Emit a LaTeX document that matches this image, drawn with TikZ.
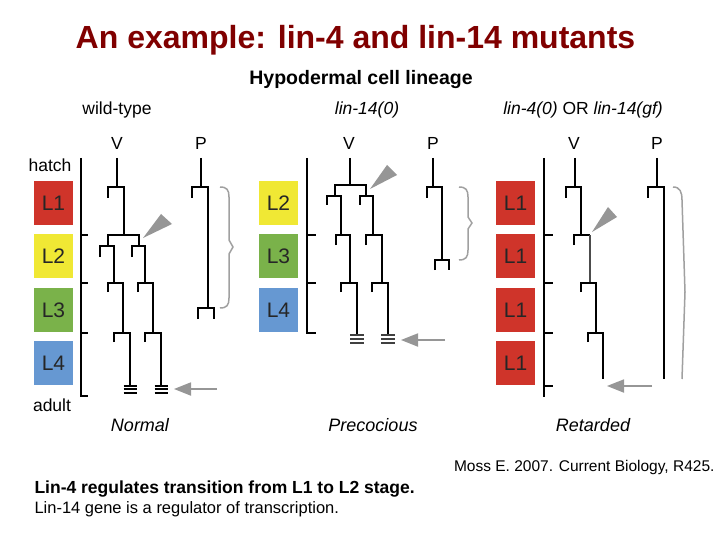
\documentclass[tikz,border=0pt]{standalone}
\usepackage{fontspec}
\setmainfont{Liberation Sans}
\usetikzlibrary{arrows.meta}

\definecolor{titlered}{RGB}{128,0,0}
\definecolor{stagered}{RGB}{207,52,42}
\definecolor{stageyellow}{RGB}{240,232,52}
\definecolor{stagegreen}{RGB}{122,178,74}
\definecolor{stageblue}{RGB}{102,152,210}
\definecolor{arrowgray}{RGB}{150,150,150}
\definecolor{bracegray}{RGB}{160,160,160}

\begin{document}
\begin{tikzpicture}[x = 1pt, y = -1pt,
  lin/.style   = {line width = 2.2pt},
  axis/.style  = {line width = 2.2pt},
  stage/.style = {minimum width = 39pt, minimum height = 44pt, inner sep = 0pt,
                  font = \fontsize{21}{22}\selectfont, text = black!85},
  lbl/.style   = {font = \fontsize{17.5}{20}\selectfont},
  phenotype/.style = {font = \fontsize{18}{20}\selectfont\itshape},
  brace/.style = {draw = bracegray, line width = 1.5pt},
  grayarrow/.style = {draw = arrowgray, line width = 1.8pt,
                      -{Triangle[length = 17pt, width = 13pt]}}]

  \useasboundingbox (0,0) rectangle (720,540);

  % Headings
  \node[font = \fontsize{32}{36}\selectfont\bfseries, text = titlered] (title) at (355.5, 40) {An example: lin-4 and lin-14 mutants};
  \node[font = \fontsize{19.5}{22}\selectfont\bfseries] (subtitle) at (361, 80) {Hypodermal cell lineage};

  % Wild-type lineage
  \begin{scope}

    \node[lbl] (wtlabel) at (117, 110) {wild-type};
    \node[lbl] (wtv) at (117, 143) {V};
    \node[lbl] (wtp) at (201, 143) {P};
    \node[lbl] (wthatch) at (50, 165) {hatch};
    \node[lbl] (wtadult) at (52, 405) {adult};
    \node[phenotype] (wtcap) at (140, 425) {Normal};

    % stages
    \node[stage, fill = stagered   ] (wtl1) at (53.5, 203) {L1};
    \node[stage, fill = stageyellow] (wtl2) at (53.5, 256) {L2};
    \node[stage, fill = stagegreen ] (wtl3) at (53.5, 310) {L3};
    \node[stage, fill = stageblue  ] (wtl4) at (53.5, 363) {L4};

    % time axis
    \draw[axis] (81,158) -- (81,396) -- (88,396);
    \draw[axis] (81,235) -- (88,235);
    \draw[axis] (81,283) -- (88,283);
    \draw[axis] (81,333) -- (88,333);

    % V cell
    \draw[lin] (117,158) -- (117,187);
    \draw[lin] (108,198) |- (124,187) -- (124,235);
    \draw[lin] (108,246) -- (108,235) -- (139,235) -- (139,246);
    \draw[lin] (100,257) |- (114,246) -- (114,283);
    \draw[lin] (132,257) |- (145,246) -- (145,283);
    \draw[lin] (108,292) |- (123,283) -- (123,333);
    \draw[lin] (138,292) |- (153,283) -- (153,333);
    \draw[lin] (114,342) |- (130,333) -- (130,386);
    \draw[lin] (145,342) |- (161,333) -- (161,386);
    \foreach \dy in {-3.5, 0, 3.5} {
      \draw[lin, line width = 2pt] (123.5, 389 + \dy) -- (136.5, 389 + \dy);
      \draw[lin, line width = 2pt] (154.5, 389 + \dy) -- (167.5, 389 + \dy);
    }

    % P cell
    \draw[lin] (201,158) -- (201,187);
    \draw[lin] (192,198) |- (208,187) -- (208,308);
    \draw[lin] (198,319) |- (214,308) -- (214,319);
    \draw[brace] (220,187) .. controls (227,187) and (229,190) .. (229,197) -- (229,240) -- (233,247)
      -- (229,254) -- (229,298) .. controls (229,305) and (227,308) .. (220,308);

    % arrows
    \fill[arrowgray] (143,238) -- (161,214) -- (172,224) -- cycle;
    \coordinate (wtfrom) at (217,389);
    \coordinate (wtto) at (174,389);
    \draw[grayarrow] (wtfrom) -- (wtto);

  \end{scope} % Wild-type lineage

  % Precocious lineage
  \begin{scope}

    \node[lbl, font = \fontsize{17.5}{20}\selectfont\itshape] (pclabel) at (367, 110) {lin-14(0)};
    \node[lbl] (pcv) at (349, 143) {V};
    \node[lbl] (pcp) at (433, 143) {P};
    \node[phenotype] (pccap) at (373, 425) {Precocious};

    % stages
    \node[stage, fill = stageyellow] (pcl2) at (278.5, 203) {L2};
    \node[stage, fill = stagegreen ] (pcl3) at (278.5, 256) {L3};
    \node[stage, fill = stageblue  ] (pcl4) at (278.5, 310) {L4};

    % time axis
    \draw[axis] (307,158) -- (307,333) -- (316,333);
    \draw[axis] (307,235) -- (316,235);
    \draw[axis] (307,283) -- (316,283);

    % V cell
    \draw[lin] (350,158) -- (350,185);
    \draw[lin] (335,196) -- (335,185) -- (366,185) -- (366,196);
    \draw[lin] (327,205) |- (341,196) -- (341,235);
    \draw[lin] (360,205) |- (373,196) -- (373,235);
    \draw[lin] (336,245) |- (350,235) -- (350,283);
    \draw[lin] (366,245) |- (382,235) -- (382,283);
    \draw[lin] (341,292) |- (357,283) -- (357,335);
    \draw[lin] (372,292) |- (388,283) -- (388,335);
    \foreach \dy in {-4, 0, 4} {
      \draw[lin, line width = 2.6pt, black!75] (350, 339 + \dy) -- (364, 339 + \dy);
      \draw[lin, line width = 2.6pt, black!75] (381, 339 + \dy) -- (395, 339 + \dy);
    }

    % P cell
    \draw[lin] (433,158) -- (433,187);
    \draw[lin] (427,198) |- (442,187) -- (442,260);
    \draw[lin] (435,270) |- (449,260) -- (449,270);
    \draw[brace] (459,187) .. controls (466,187) and (468,190) .. (468,197) -- (468,217) -- (472,223)
      -- (468,229) -- (468,250) .. controls (468,257) and (466,260) .. (459,260);

    % arrows
    \fill[arrowgray] (370,189) -- (387,165) -- (397,175) -- cycle;
    \coordinate (pcfrom) at (445,340);
    \coordinate (pcto) at (401,340);
    \draw[grayarrow] (pcfrom) -- (pcto);

  \end{scope} % Precocious lineage

  % Retarded lineage
  \begin{scope}

    \node[lbl] (rtlabel) at (583, 110) {\itshape lin-4(0)\upshape{} OR \itshape lin-14(gf)};
    \node[lbl] (rtv) at (574, 143) {V};
    \node[lbl] (rtp) at (657, 143) {P};
    \node[phenotype] (rtcap) at (593, 425) {Retarded};

    % stages
    \node[stage, fill = stagered] (rtl1a) at (515.5, 203) {L1};
    \node[stage, fill = stagered] (rtl1b) at (515.5, 256) {L1};
    \node[stage, fill = stagered] (rtl1c) at (515.5, 310) {L1};
    \node[stage, fill = stagered] (rtl1d) at (515.5, 363) {L1};

    % time axis
    \draw[axis] (544,158) -- (544,397);
    \draw[axis] (544,235) -- (553,235);
    \draw[axis] (544,283) -- (553,283);
    \draw[axis] (544,333) -- (553,333);
    \draw[axis] (544,386) -- (553,386);

    % V cell
    \draw[lin] (575,158) -- (575,187);
    \draw[lin] (566,198) |- (581,187) -- (581,235);
    \draw[lin] (574,245) |- (590,235);
    \draw[lin, line width = 2.6pt, black!70] (590,235) -- (590,283);
    \draw[lin] (581,292) |- (596,283) -- (596,333);
    \draw[lin] (588,342) |- (603,333) -- (603,379);

    % P cell
    \draw[lin] (657,158) -- (657,187);
    \draw[lin] (648,198) |- (664,187) -- (664,379);
    \draw[brace] (673,187) .. controls (680,187) and (682,192) .. (682,200) -- (685,292) -- (682,379);

    % arrows
    \fill[arrowgray] (592,232) -- (608,207) -- (617,217) -- cycle;
    \coordinate (rtfrom) at (652,386);
    \coordinate (rtto) at (607,386);
    \draw[grayarrow] (rtfrom) -- (rtto);

  \end{scope} % Retarded lineage

  % Notes
  \node[anchor = east, font = \fontsize{15.5}{18}\selectfont] (source) at (718, 467) {Moss E. 2007. Current Biology, R425.};
  \node[anchor = west, font = \fontsize{17.5}{20}\selectfont\bfseries] (note1) at (31, 489) {Lin-4 regulates transition from L1 to L2 stage.};
  \node[anchor = west, font = \fontsize{16.5}{20}\selectfont] (note2) at (31, 509) {Lin-14 gene is a regulator of transcription.};

\end{tikzpicture}
\end{document}
